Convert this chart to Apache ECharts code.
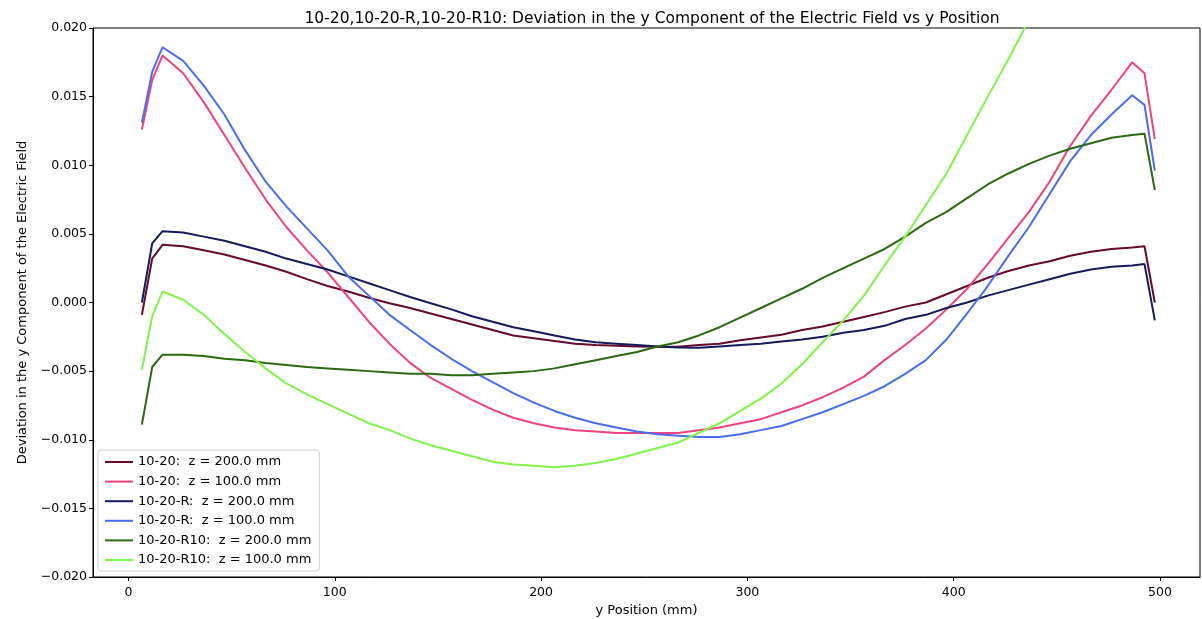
<!DOCTYPE html>
<html>
<head>
<meta charset="utf-8">
<script src="https://cdn.jsdelivr.net/npm/echarts@6/dist/echarts.min.js"></script>
<style>
  html, body { margin: 0; padding: 0; background: #fff; }
  #chart { width: 1202px; height: 619px; }
</style>
</head>
<body>
<div id="chart"></div>
<script>
// y positions (mm) at which the field deviation was sampled
const yPos = [6.5, 11.5, 16.5, 26.5, 36.5, 46.5, 56.5, 66.5, 76.5, 86.5,
  96.5, 106.5, 116.5, 126.5, 136.5, 146.5, 156.5, 166.5, 176.5, 186.5,
  196.5, 206.5, 216.5, 226.5, 236.5, 246.5, 256.5, 266.5, 276.5, 286.5,
  296.5, 306.5, 316.5, 326.5, 336.5, 346.5, 356.5, 366.5, 376.5, 386.5,
  396.5, 406.5, 416.5, 426.5, 436.5, 446.5, 456.5, 466.5, 476.5, 486.5,
  492.5, 497.5];

// 10-20, z = 200 mm
const dev1020_z200 = [-0.0009, 0.0032, 0.0042, 0.0041, 0.0038, 0.0035, 0.0031, 0.0027, 0.00224, 0.0017,
  0.0012, 0.0008, 0.00035, -0.00005, -0.0004, -0.0008, -0.0012, -0.0016, -0.0020, -0.0024,
  -0.0026, -0.0028, -0.0030, -0.0031, -0.00315, -0.0032, -0.00322, -0.00322, -0.0031, -0.0030,
  -0.00275, -0.00255, -0.00235, -0.0020, -0.00175, -0.0014, -0.00105, -0.0007, -0.0003, 0.0000,
  0.0006, 0.0012, 0.0018, 0.0023, 0.0027, 0.0030, 0.0034, 0.0037, 0.0039, 0.0040,
  0.0041, 0.0000];

// 10-20, z = 100 mm
const dev1020_z100 = [0.0126, 0.0162, 0.0180, 0.0167, 0.0146, 0.0122, 0.0098, 0.0075, 0.0055, 0.0038,
  0.0022, 0.0004, -0.0014, -0.0030, -0.0044, -0.0055, -0.0063, -0.0071, -0.0078, -0.0084,
  -0.0088, -0.0091, -0.0093, -0.0094, -0.0095, -0.0095, -0.0095, -0.0095, -0.0093, -0.0091,
  -0.0088, -0.0085, -0.0080, -0.0075, -0.0069, -0.0062, -0.0054, -0.0042, -0.0031, -0.0019,
  -0.0005, 0.0010, 0.0028, 0.0047, 0.0066, 0.0088, 0.0114, 0.0136, 0.0155, 0.0175,
  0.0167, 0.0119];

// 10-20-R, z = 200 mm
const dev1020R_z200 = [0.0000, 0.0043, 0.0052, 0.0051, 0.0048, 0.0045, 0.0041, 0.0037, 0.0032, 0.0028,
  0.0024, 0.0019, 0.0014, 0.0009, 0.0004, -0.00005, -0.0005, -0.0010, -0.0014, -0.0018,
  -0.0021, -0.0024, -0.0027, -0.0029, -0.0030, -0.0031, -0.0032, -0.00327, -0.0033, -0.0032,
  -0.0031, -0.0030, -0.00285, -0.0027, -0.0025, -0.0022, -0.0020, -0.0017, -0.0012, -0.0009,
  -0.0004, 0.0000, 0.0005, 0.0009, 0.0013, 0.0017, 0.0021, 0.0024, 0.0026, 0.0027,
  0.0028, -0.0013];

// 10-20-R, z = 100 mm
const dev1020R_z100 = [0.0131, 0.0168, 0.0186, 0.0176, 0.0158, 0.0137, 0.0111, 0.0088, 0.0070, 0.0054,
  0.0038, 0.0019, 0.0005, -0.0009, -0.0020, -0.0031, -0.0041, -0.0050, -0.0058, -0.0066,
  -0.0073, -0.0079, -0.0084, -0.0088, -0.0091, -0.0094, -0.0096, -0.0097, -0.0098, -0.0098,
  -0.0096, -0.0093, -0.0090, -0.0085, -0.0080, -0.0074, -0.0068, -0.0061, -0.0052, -0.0042,
  -0.0027, -0.0008, 0.0012, 0.0034, 0.0055, 0.0079, 0.0103, 0.0122, 0.0137, 0.0151,
  0.0144, 0.0096];

// 10-20-R10, z = 200 mm
const dev1020R10_z200 = [-0.0089, -0.0047, -0.0038, -0.0038, -0.0039, -0.0041, -0.0042, -0.0044, -0.00455, -0.0047,
  -0.0048, -0.0049, -0.0050, -0.0051, -0.0052, -0.0052, -0.0053, -0.0053, -0.0052, -0.0051,
  -0.0050, -0.0048, -0.0045, -0.0042, -0.0039, -0.0036, -0.0032, -0.0029, -0.0024, -0.0018,
  -0.0011, -0.0004, 0.0003, 0.0010, 0.0018, 0.0025, 0.0032, 0.0039, 0.0048, 0.0058,
  0.0066, 0.0076, 0.0086, 0.0094, 0.0101, 0.0107, 0.0112, 0.0116, 0.0120, 0.0122,
  0.0123, 0.0082];

// 10-20-R10, z = 100 mm (leaves the top of the axes near 435 mm)
const dev1020R10_z100 = [-0.0049, -0.0010, 0.0008, 0.0002, -0.0009, -0.0023, -0.0036, -0.0048, -0.0059, -0.0067,
  -0.0074, -0.0081, -0.0088, -0.0093, -0.0099, -0.0104, -0.0108, -0.0112, -0.0116, -0.0118,
  -0.0119, -0.0120, -0.0119, -0.0117, -0.0114, -0.0110, -0.0106, -0.0102, -0.0095, -0.0088,
  -0.0079, -0.0070, -0.0059, -0.0045, -0.0029, -0.0013, 0.0005, 0.0027, 0.0048, 0.0071,
  0.0094, 0.0122, 0.0150, 0.0177, 0.0206, 0.0234];

const xTicks = [0, 100, 200, 300, 400, 500];

const seriesDefs = [
  { name: '10-20:  z = 200.0 mm',     values: dev1020_z200,     color: '#650a2c' },
  { name: '10-20:  z = 100.0 mm',     values: dev1020_z100,     color: '#f0437a' },
  { name: '10-20-R:  z = 200.0 mm',   values: dev1020R_z200,    color: '#141a5c' },
  { name: '10-20-R:  z = 100.0 mm',   values: dev1020R_z100,    color: '#4a6cf0' },
  { name: '10-20-R10:  z = 200.0 mm', values: dev1020R10_z200,  color: '#2c6812' },
  { name: '10-20-R10:  z = 100.0 mm', values: dev1020R10_z100,  color: '#80f44a' }
];

const FONT = 'DejaVu Sans';

const fmtY = v => {
  const r = Math.round(v * 1000) / 1000;
  if (Math.abs(r) < 1e-9) return '0.000';
  return (r < 0 ? '\u2212' : '') + Math.abs(r).toFixed(3);
};

const chart = echarts.init(document.getElementById('chart'), null, { renderer: 'canvas' });

chart.setOption({
  backgroundColor: '#ffffff',
  animation: false,
  title: {
    text: '10-20,10-20-R,10-20-R10: Deviation in the y Component of the Electric Field vs y Position',
    left: 647,
    textAlign: 'center',
    top: 6,
    textStyle: { fontFamily: FONT, fontSize: 15.5, fontWeight: 'normal', color: '#000' }
  },
  legend: {
    orient: 'vertical',
    left: 98,
    top: 450,
    padding: [5, 8, 4, 7],
    itemGap: 5.6,
    itemWidth: 28,
    itemHeight: 14,
    icon: 'path://M0,6.5 L28,6.5 L28,8.5 L0,8.5 Z',
    backgroundColor: 'rgba(255,255,255,0.8)',
    borderColor: '#d0d0d0',
    borderWidth: 1,
    borderRadius: 3,
    textStyle: { fontFamily: FONT, fontSize: 13, color: '#000', lineHeight: 14 },
    data: seriesDefs.map(s => s.name)
  },
  grid: {
    left: 93, right: 2, top: 28, bottom: 42,
    outerBoundsMode: 'none',
    containLabel: false,
    show: true, borderColor: '#000', borderWidth: 1, backgroundColor: '#fff'
  },
  xAxis: {
    type: 'value',
    min: -17.2,
    max: 519.4,
    name: 'y Position (mm)',
    nameLocation: 'middle',
    nameGap: 27,
    nameTextStyle: { fontFamily: FONT, fontSize: 13, color: '#000' },
    axisLine: { show: true, onZero: false, lineStyle: { color: '#000', width: 1 } },
    axisTick: { show: true, length: 4, customValues: xTicks, lineStyle: { color: '#000' } },
    axisLabel: { customValues: xTicks, fontFamily: FONT, fontSize: 12.5, color: '#000', margin: 9 },
    splitLine: { show: false }
  },
  yAxis: {
    type: 'value',
    min: -0.02,
    max: 0.02,
    interval: 0.005,
    name: 'Deviation in the y Component of the Electric Field',
    nameLocation: 'middle',
    nameGap: 64,
    nameRotate: 90,
    nameTextStyle: { fontFamily: FONT, fontSize: 13, color: '#000' },
    axisLine: { show: true, onZero: false, lineStyle: { color: '#000', width: 1 } },
    axisTick: { show: true, length: 4, lineStyle: { color: '#000' } },
    axisLabel: { formatter: fmtY, fontFamily: FONT, fontSize: 12.5, color: '#000', margin: 6 },
    splitLine: { show: false }
  },
  series: seriesDefs.map(s => ({
    name: s.name,
    type: 'line',
    data: s.values.map((v, i) => [yPos[i], v]),
    symbol: 'none',
    clip: true,
    smooth: false,
    color: s.color,
    lineStyle: { color: s.color, width: 2 }
  }))
});
</script>
</body>
</html>
